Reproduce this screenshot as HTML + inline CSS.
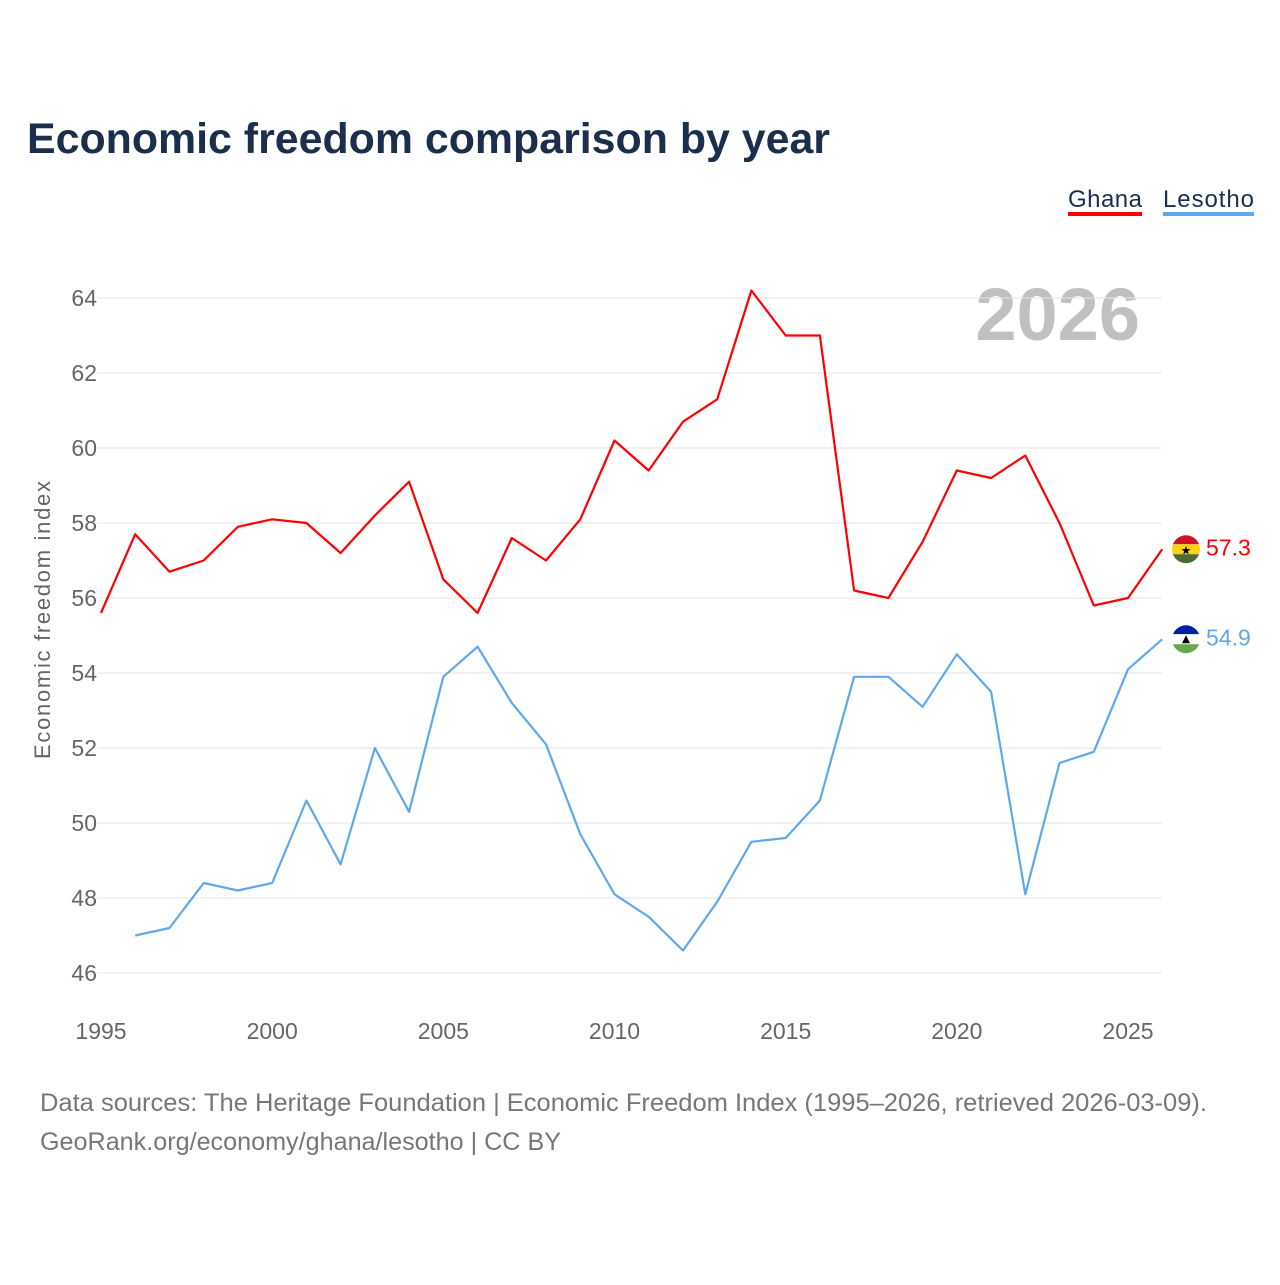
<!DOCTYPE html>
<html><head><meta charset="utf-8"><style>
body{margin:0;background:#fff;font-family:"Liberation Sans",sans-serif;}
svg text{font-family:"Liberation Sans",sans-serif;}
</style></head><body>
<svg width="1280" height="1280" viewBox="0 0 1280 1280">
<text x="27" y="153" font-size="43" font-weight="bold" fill="#1b2e4b" textLength="803" lengthAdjust="spacingAndGlyphs">Economic freedom comparison by year</text>
<g>
<g><text x="1068" y="207" font-size="24" fill="#1b2e4b" textLength="74">Ghana</text><rect x="1068" y="212" width="74" height="4" fill="#ff0000"/></g>
<g><text x="1163" y="207" font-size="24" fill="#1b2e4b" textLength="91">Lesotho</text><rect x="1163" y="212" width="91" height="4" fill="#5fa8ec"/></g>
</g>
<text x="1140" y="340" text-anchor="end" font-size="74" font-weight="bold" fill="#c0c0c0">2026</text>
<g id="grid"></g><g id="xt"></g><g id="lines"></g>
<text transform="translate(50,620) rotate(-90)" text-anchor="middle" font-size="22" fill="#666" textLength="278">Economic freedom index</text>
<text x="40" y="1111" font-size="25" fill="#777" textLength="1167" lengthAdjust="spacingAndGlyphs">Data sources: The Heritage Foundation | Economic Freedom Index (1995–2026, retrieved 2026-03-09).</text>
<text x="40" y="1150" font-size="25" fill="#777" textLength="521" lengthAdjust="spacingAndGlyphs">GeoRank.org/economy/ghana/lesotho | CC BY</text>
</svg>
<script>
const years=[1995,1996,1997,1998,1999,2000,2001,2002,2003,2004,2005,2006,2007,2008,2009,2010,2011,2012,2013,2014,2015,2016,2017,2018,2019,2020,2021,2022,2023,2024,2025,2026];
const ghana=[55.6,57.7,56.7,57.0,57.9,58.1,58.0,57.2,58.2,59.1,56.5,55.6,57.6,57.0,58.1,60.2,59.4,60.7,61.3,64.2,63.0,63.0,56.2,56.0,57.5,59.4,59.2,59.8,58.0,55.8,56.0,57.3];
const lesotho=[null,47.0,47.2,48.4,48.2,48.4,50.6,48.9,52.0,50.3,53.9,54.7,53.2,52.1,49.7,48.1,47.5,46.6,47.9,49.5,49.6,50.6,53.9,53.9,53.1,54.5,53.5,48.1,51.6,51.9,54.1,54.9];
const yTicks=[46,48,50,52,54,56,58,60,62,64];
const xTicks=[1995,2000,2005,2010,2015,2020,2025];
const NS="http://www.w3.org/2000/svg";
const X=y=>101+(y-1995)*(1027/30);
const Y=v=>973-(v-46)*37.5;
function mk(t,a,p){const e=document.createElementNS(NS,t);for(const k in a)e.setAttribute(k,a[k]);p.appendChild(e);return e;}
const g=document.getElementById('grid');
yTicks.forEach(v=>{
 const l=mk('line',{x1:97,x2:1162,y1:Y(v),y2:Y(v),stroke:'#e6e6e6','stroke-width':1},g);
 
 
 const t=mk('text',{x:97,y:Y(v)+8,'text-anchor':'end','font-size':23,fill:'#666'},g);t.textContent=v;
 
 
});
const xt=document.getElementById('xt');
xTicks.forEach(v=>{
 const t=mk('text',{x:X(v),y:1039,'text-anchor':'middle','font-size':23,fill:'#666'},xt);t.textContent=v;
 
 
});
const L=document.getElementById('lines');
function series(d,c,name){
 let p='';d.forEach((v,i)=>{if(v==null)return;p+=(p?'L':'M')+X(years[i]).toFixed(1)+','+Y(v).toFixed(1);});
 const e=mk('path',{d:p,fill:'none',stroke:c,'stroke-width':2.2,'stroke-linejoin':'round'},L);
 
 
 const last=d[d.length-1],ly=Y(last);
 const t=mk('text',{x:1206,y:ly+6,'font-size':23,fill:c},L);t.textContent=last.toFixed(1);
 
 
 return ly;
}
const gy=series(ghana,'#ff0000','ghana');
const ly=series(lesotho,'#5fa8ec','lesotho');
const cx=1186;
const fg=mk('g',{},L);


[['#ce1126',-15],['#fcd116',-5],['#4a6b32',5]].forEach(([c,o])=>mk('rect',{x:cx-15,y:gy+o,width:30,height:10,fill:c,'clip-path':'circle(14px at 15px '+(-o)+'px)'},fg));
mk('text',{x:cx,y:gy+5,'text-anchor':'middle','font-size':12,fill:'#000'},fg).textContent='★';
const fl=mk('g',{},L);


[['#00209f',-15],['#ffffff',-5],['#6aa84f',5]].forEach(([c,o])=>mk('rect',{x:cx-15,y:ly+o,width:30,height:10,fill:c,'clip-path':'circle(14px at 15px '+(-o)+'px)'},fl));
mk('path',{d:`M${cx-4},${ly+4}L${cx},${ly-4}L${cx+4},${ly+4}Z`,fill:'#000'},fl);
</script>
</body></html>
